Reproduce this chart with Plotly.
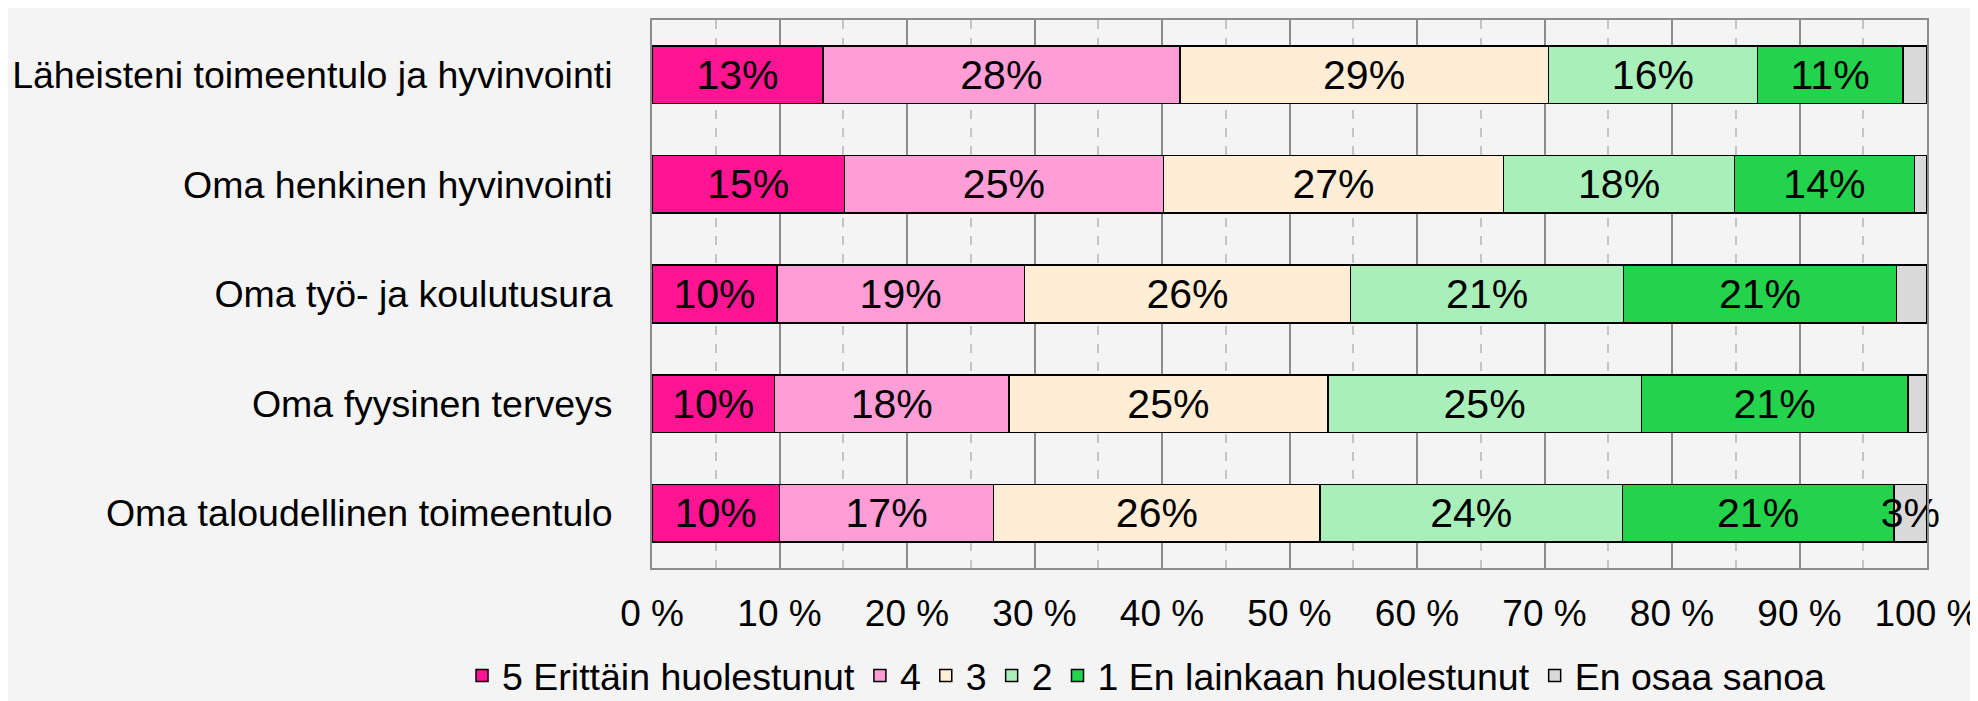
import plotly.graph_objects as go

categories = [
    "Läheisteni toimeentulo ja hyvinvointi",
    "Oma henkinen hyvinvointi",
    "Oma työ- ja koulutusura",
    "Oma fyysinen terveys",
    "Oma taloudellinen toimeentulo",
]
series_names = ["5 Erittäin huolestunut", "4", "3", "2", "1 En lainkaan huolestunut", "En osaa sanoa"]
s5 = [13.4, 15.1, 9.8, 9.6, 10.0]
s4 = [28.0, 25.0, 19.4, 18.4, 16.8]
s3 = [28.9, 26.7, 25.6, 25.0, 25.6]
s2 = [16.4, 18.1, 21.4, 24.6, 23.7]
s1 = [11.4, 14.1, 21.4, 20.9, 21.3]
seos = [1.9, 1.0, 2.4, 1.5, 2.6]
colors = ["#FF1493", "#FF9DD6", "#FFEDD5", "#A9EFB9", "#24D34C", "#D9D9D9"]
x_ticks = [0, 10, 20, 30, 40, 50, 60, 70, 80, 90, 100]

FONT = "Liberation Sans, Arial, sans-serif"

fig = go.Figure()
for name, vals, col in zip(series_names, [s5, s4, s3, s2, s1, seos], colors):
    labels = [f"{v:.0f}%" if v >= 2.5 else "" for v in vals]
    fig.add_trace(go.Bar(
        y=categories, x=vals, name=name, orientation="h",
        marker=dict(color=col, line=dict(color="#000000", width=1.5)),
        text=labels, texttemplate="%{text}", textposition="inside",
        insidetextanchor="middle", textangle=0, cliponaxis=False,
        textfont=dict(family=FONT, size=41, color="#000000"),
        hoverinfo="x+y+name",
    ))

fig.update_layout(
    barmode="stack",
    bargap=0.475,
    width=1978, height=701,
    margin=dict(l=644, r=59, t=12, b=141, autoexpand=False),
    paper_bgcolor="#F4F4F4",
    plot_bgcolor="#F4F4F4",
    font=dict(family=FONT, size=36, color="#000000"),
    uniformtext=dict(minsize=41, mode="show"),
    showlegend=True,
    legend=dict(
        orientation="h", xref="paper", yref="paper",
        x=-0.149, xanchor="left", y=-0.1964, yanchor="middle",
        font=dict(family=FONT, size=37.5, color="#000000"),
        traceorder="normal", bgcolor="rgba(0,0,0,0)",
        itemwidth=30, tracegroupgap=0,
    ),
)
fig.update_xaxes(
    range=[0, 100], tickvals=x_ticks, ticktext=[f"{t} %" for t in x_ticks],
    showgrid=True, gridcolor="#8C8C8C", gridwidth=1.5,
    minor=dict(dtick=5, showgrid=True, gridcolor="#C4C4C4", griddash="dash", gridwidth=1.5),
    showline=True, linecolor="#8C8C8C", linewidth=2, mirror=True,
    ticks="", ticklabelstandoff=12, zeroline=False, automargin=False,
    tickfont=dict(family=FONT, size=37, color="#000000"),
)
fig.update_yaxes(
    categoryorder="array", categoryarray=categories, autorange="reversed",
    showgrid=False, showline=True, linecolor="#8C8C8C", linewidth=2, mirror=True,
    ticks="", ticklabelstandoff=30, automargin=False,
    tickfont=dict(family=FONT, size=37.5, color="#000000"),
)

fig.write_html("out.html")
